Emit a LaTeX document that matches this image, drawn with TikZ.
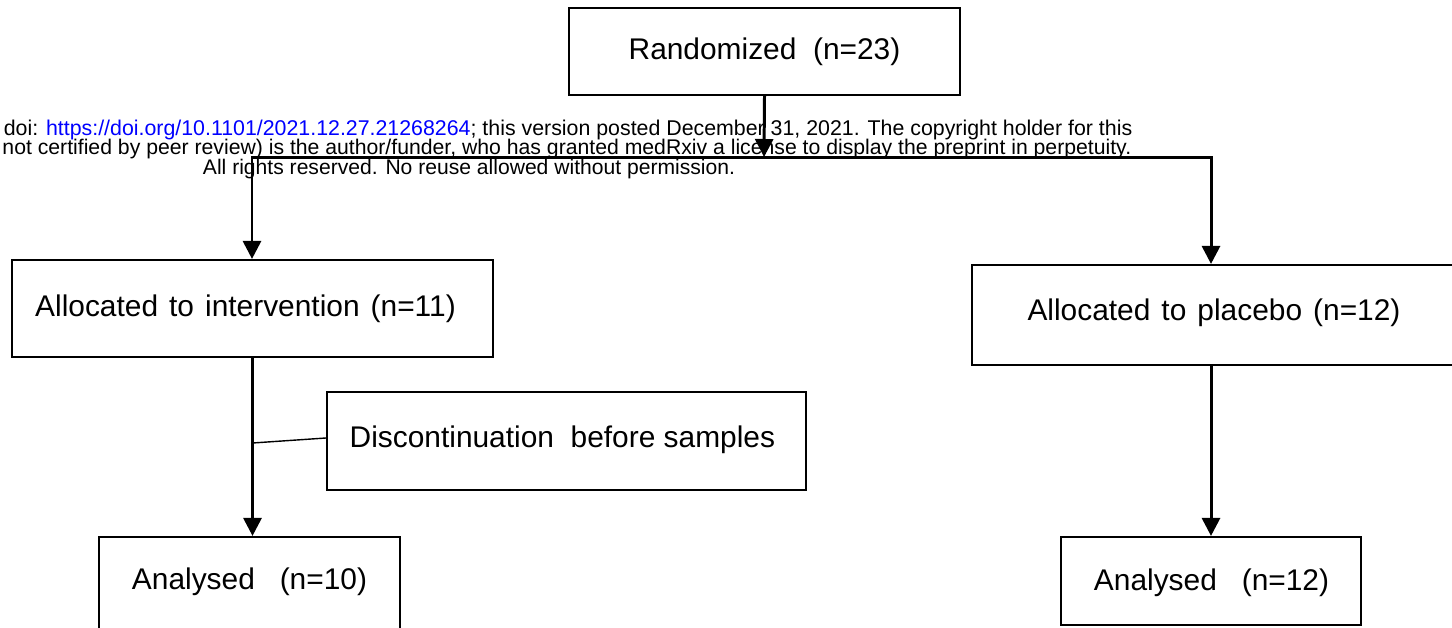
\documentclass[tikz,border=0pt]{standalone}
\usepackage{fontspec}
\setmainfont{Liberation Sans}
\usetikzlibrary{arrows.meta}
\begin{document}
\begin{tikzpicture}[x=0.01cm,y=-0.01cm,
  box/.style={draw, line width=0.6pt, rectangle, inner sep=0pt, font=\fontsize{8.5pt}{10pt}\selectfont},
  boxtext/.style={font=\fontsize{8.5pt}{10pt}\selectfont, inner sep=0pt},
  flow/.style={line width=0.85pt, -{Triangle[length=0.18cm,width=0.18cm]}},
  thinline/.style={line width=0.4pt},
  wm/.style={font=\fontsize{6.07pt}{7pt}\selectfont, inner sep=0pt}]
\useasboundingbox (0,0) rectangle (1452,627);
\clip (0,0) rectangle (1452,627);
% watermark
\node[wm, anchor=east] (wm1) at (1133,130) {doi: \textcolor{blue}{https://doi.org/10.1101/2021.12.27.21268264}; this version posted December 31, 2021. The copyright holder for this};
\node[wm, anchor=east, font=\fontsize{6.03pt}{7pt}\selectfont] (wm2) at (1132,149) {not certified by peer review) is the author/funder, who has granted medRxiv a license to display the preprint in perpetuity.};
\node[wm, font=\fontsize{6pt}{7pt}\selectfont] (wm3) at (469,169) {All rights reserved. No reuse allowed without permission.};
% boxes
\node[box, minimum width=3.91cm, minimum height=0.87cm] (rand) at (764.5,51.5) {Randomized\ \ (n=23)};
\node[box, minimum width=4.81cm, minimum height=0.97cm] (int) at (252.5,308.5) {};
\node[boxtext] (intt) at (245.5,309) {\spaceskip=0.37em Allocated to intervention (n=11)};
\node[box, minimum width=4.82cm, minimum height=1.00cm] (pla) at (1213,315) {};
\node[boxtext] (plat) at (1214,313) {\spaceskip=0.37em Allocated to placebo (n=12)};
\node[box, minimum width=4.79cm, minimum height=0.98cm] (disc) at (566.5,441) {};
\node[boxtext, anchor=west] (disct) at (349,440) {Discontinuation\ \ before samples};
\node[box, minimum width=3.01cm, minimum height=1.10cm] (an1) at (249.5,592) {};
\node[boxtext] (an1t) at (249.5,582) {Analysed\ \ \ (n=10)};
\node[box, minimum width=3.00cm, minimum height=0.88cm] (an2) at (1211,581) {};
\node[boxtext] (an2t) at (1211.5,583) {Analysed\ \ \ (n=12)};
% connectors
\coordinate (split) at (764,157);
\draw[flow] (rand.south) -- (split);
\draw[flow] (split) -| ([xshift=-0.005cm]int.north);
\draw[flow] (split) -| ([xshift=-0.02cm]pla.north);
\draw[flow] (int.south) -- (int.south |- an1.north);
\draw[flow] ([xshift=-0.02cm]pla.south) -- ([xshift=-0.02cm]pla.south |- an2.north);
\coordinate (dj) at (252.5,443);
\draw[thinline] (dj) -- ([yshift=0.03cm]disc.west);
\end{tikzpicture}
\end{document}
